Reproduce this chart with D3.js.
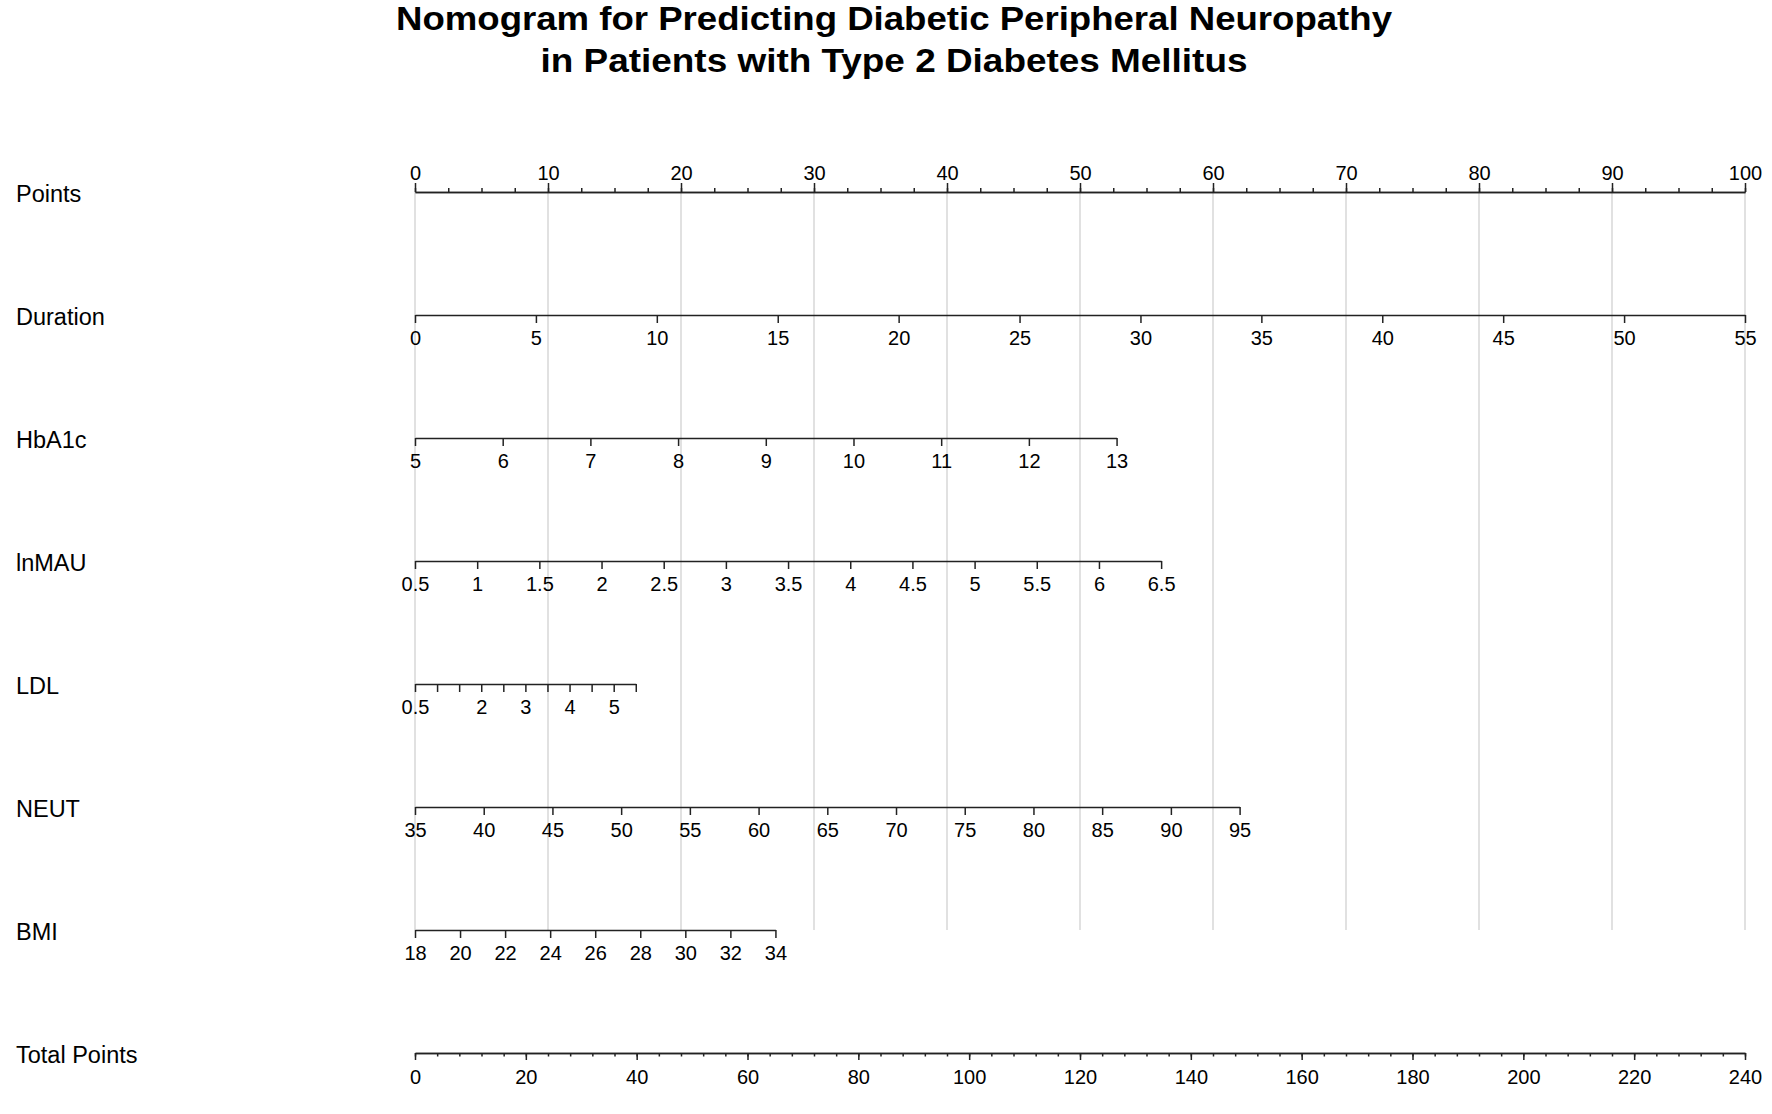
<!DOCTYPE html>
<html>
<head>
<meta charset="utf-8">
<script src="https://cdn.jsdelivr.net/npm/d3@7/dist/d3.min.js"></script>
<style>
  html, body { margin: 0; padding: 0; background: #fff; }
  svg { display: block; }
</style>
</head>
<body>
<svg id="chart" width="1772" height="1114"></svg>
<script>
// ---------- data ----------
const titleLines = ["Nomogram for Predicting Diabetic Peripheral Neuropathy",
                    "in Patients with Type 2 Diabetes Mellitus"];
const rowNames = ["Points", "Duration", "HbA1c", "lnMAU", "LDL", "NEUT", "BMI", "Total Points"];

const variables     = ["Duration", "HbA1c", "lnMAU", "LDL", "NEUT", "BMI"];
const varMin        = [0, 5, 0.5, 0.5, 35, 18];
const varMax        = [55, 13, 6.5, 5.5, 95, 34];
const varMaxPoints  = [100, 52.75, 56.1, 16.6, 62.0, 27.1];   // points reached at varMax

const durationTicks = [0, 5, 10, 15, 20, 25, 30, 35, 40, 45, 50, 55];
const hba1cTicks    = [5, 6, 7, 8, 9, 10, 11, 12, 13];
const lnmauTicks    = [0.5, 1, 1.5, 2, 2.5, 3, 3.5, 4, 4.5, 5, 5.5, 6, 6.5];
const ldlTicks      = [0.5, 1, 1.5, 2, 2.5, 3, 3.5, 4, 4.5, 5, 5.5];
const ldlLabels     = [0.5, 2, 3, 4, 5];
const neutTicks     = [35, 40, 45, 50, 55, 60, 65, 70, 75, 80, 85, 90, 95];
const bmiTicks      = [18, 20, 22, 24, 26, 28, 30, 32, 34];
const varTicks      = [durationTicks, hba1cTicks, lnmauTicks, ldlTicks, neutTicks, bmiTicks];
const varLabels     = [durationTicks, hba1cTicks, lnmauTicks, ldlLabels, neutTicks, bmiTicks];

const pointsTicks   = [0, 10, 20, 30, 40, 50, 60, 70, 80, 90, 100];
const totalTicks    = [0, 20, 40, 60, 80, 100, 120, 140, 160, 180, 200, 220, 240];
const pointsMax = 100, totalMax = 240;

// ---------- layout ----------
const svg = d3.select("#chart");
const X0 = 415, X1 = 1745;
const fontFamily = "'Liberation Sans', Arial, Helvetica, sans-serif";
const tickFont = "20px";
const axisColor = "#222";

const rowY = d3.scalePoint().domain(rowNames).range([192, 1053]);
const ptsScale = d3.scaleLinear().domain([0, pointsMax]).range([X0, X1]);
const totScale = d3.scaleLinear().domain([0, totalMax]).range([X0, X1]);

// title
const titleWidths = [996, 707];
svg.append("g").selectAll("text").data(titleLines).join("text")
  .attr("x", 894).attr("y", (d, i) => 30 + i * 42)
  .attr("text-anchor", "middle")
  .attr("textLength", (d, i) => titleWidths[i])
  .attr("lengthAdjust", "spacingAndGlyphs")
  .style("font-family", fontFamily).style("font-weight", "bold").style("font-size", "34px")
  .attr("fill", "#000")
  .text(d => d);

// gridlines
svg.append("g").selectAll("line").data(pointsTicks).join("line")
  .attr("x1", d => ptsScale(d)).attr("x2", d => ptsScale(d))
  .attr("y1", rowY("Points")).attr("y2", rowY("BMI"))
  .attr("stroke", "#d4d4d4").attr("stroke-width", 1.4);

// row labels
svg.append("g").selectAll("text").data(rowNames).join("text")
  .attr("x", 16).attr("y", d => rowY(d) + 10)
  .style("font-family", fontFamily).style("font-size", "23.5px")
  .attr("fill", "#000")
  .text(d => d);

function styleAxis(g) {
  g.select(".domain").attr("stroke", axisColor).attr("stroke-width", 1.7);
  g.selectAll(".tick line").attr("stroke", axisColor).attr("stroke-width", 1.5);
  g.selectAll(".tick text").attr("fill", "#000")
    .style("font-family", fontFamily).style("font-size", tickFont);
  g.attr("font-family", null).attr("font-size", null);
}

// Points axis (top)
svg.append("g").attr("transform", `translate(0,${rowY("Points")})`)
  .call(d3.axisTop(ptsScale).tickValues(d3.range(0, 100.01, 2.5)).tickSize(4).tickSizeOuter(0).tickFormat(""))
  .call(styleAxis);
svg.append("g").attr("transform", `translate(0,${rowY("Points")})`)
  .call(d3.axisTop(ptsScale).tickValues(pointsTicks).tickSize(9).tickPadding(3).tickSizeOuter(0).tickFormat(d => String(d)))
  .call(styleAxis);

// variable axes
variables.forEach((v, i) => {
  const s = d3.scaleLinear().domain([varMin[i], varMax[i]])
    .range([ptsScale(0), ptsScale(varMaxPoints[i])]);
  const labels = new Set(varLabels[i]);
  svg.append("g").attr("transform", `translate(0,${rowY(v)})`)
    .call(d3.axisBottom(s).tickValues(varTicks[i]).tickSize(8).tickPadding(8).tickSizeOuter(0)
      .tickFormat(d => labels.has(d) ? String(d) : ""))
    .call(styleAxis);
});

// Total points axis
svg.append("g").attr("transform", `translate(0,${rowY("Total Points")})`)
  .call(d3.axisBottom(totScale).tickValues(d3.range(0, 240.01, 4)).tickSize(3.5).tickSizeOuter(0).tickFormat(""))
  .call(styleAxis);
svg.append("g").attr("transform", `translate(0,${rowY("Total Points")})`)
  .call(d3.axisBottom(totScale).tickValues(totalTicks).tickSize(7).tickPadding(10).tickSizeOuter(0).tickFormat(d => String(d)))
  .call(styleAxis);
</script>
</body>
</html>
